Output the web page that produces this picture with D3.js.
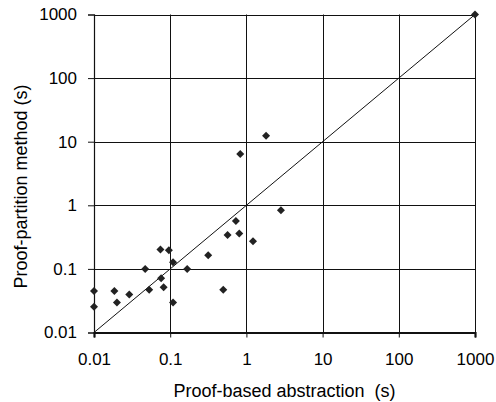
<!DOCTYPE html>
<html>
<head>
<meta charset="utf-8">
<script src="https://cdn.jsdelivr.net/npm/d3@7"></script>
<style>
  html, body { margin: 0; padding: 0; background: #fff; }
  svg { display: block; font-family: "Liberation Sans", Arial, sans-serif; }
</style>
</head>
<body>
<svg id="chart" width="496" height="402"></svg>
<script>
// Data (seconds)
const xValues = [0.01, 0.01, 0.0185, 0.02, 0.029, 0.047, 0.053, 0.0745, 0.076, 0.082, 0.096, 0.109, 0.109, 0.167, 0.315, 0.497, 0.566, 0.728, 0.806, 0.83, 1.22, 1.81, 2.84, 1000];
const yValues = [0.045, 0.0253, 0.045, 0.0296, 0.0395, 0.1, 0.0468, 0.201, 0.0713, 0.0515, 0.196, 0.127, 0.0296, 0.1, 0.164, 0.0468, 0.342, 0.567, 0.359, 6.4, 0.272, 12.4, 0.834, 1000];
const tickValues = [0.01, 0.1, 1, 10, 100, 1000];
const tickLabels = ["0.01", "0.1", "1", "10", "100", "1000"];
const xTitle = "Proof-based abstraction\u00a0\u00a0(s)";
const yTitle = "Proof-partition method (s)";

(function () {
const svg = d3.select("#chart");
const mLeft = 94, mRight = 475, mTop = 14.5, mBottom = 332.5;

const x = d3.scaleLog().domain([0.01, 1000]).range([mLeft, mRight]);
const y = d3.scaleLog().domain([0.01, 1000]).range([mBottom, mTop]);

const ink = "#111";

// gridlines
svg.append("g").selectAll("line").data(tickValues).join("line")
  .attr("x1", d => Math.round(x(d)) + 0.5).attr("x2", d => Math.round(x(d)) + 0.5)
  .attr("y1", mTop).attr("y2", mBottom)
  .attr("stroke", ink).attr("stroke-width", 1);
svg.append("g").selectAll("line").data(tickValues).join("line")
  .attr("y1", d => Math.round(y(d)) + 0.5).attr("y2", d => Math.round(y(d)) + 0.5)
  .attr("x1", mLeft).attr("x2", mRight)
  .attr("stroke", ink).attr("stroke-width", 1);

// Axes
const xAxis = d3.axisBottom(x).tickValues(tickValues).tickFormat((d, i) => tickLabels[i]).tickSize(5).tickPadding(15);
const gx = svg.append("g").attr("transform", `translate(0,${mBottom})`).call(xAxis);
gx.select(".domain").attr("stroke", ink).attr("stroke-width", 2.2);
gx.selectAll(".tick line").attr("stroke", ink);
gx.selectAll(".tick text").attr("font-size", "17px").attr("fill", "#000")
  .attr("font-family", "Liberation Sans, Arial, sans-serif");

const yAxis = d3.axisLeft(y).tickValues(tickValues).tickFormat((d, i) => tickLabels[i]).tickSize(6).tickPadding(11);
const gy = svg.append("g").attr("transform", `translate(${mLeft},0)`).call(yAxis);
gy.select(".domain").attr("stroke", ink).attr("stroke-width", 1.2);
gy.selectAll(".tick line").attr("stroke", ink);
gy.selectAll(".tick text").attr("font-size", "17px").attr("fill", "#000")
  .attr("font-family", "Liberation Sans, Arial, sans-serif");

// diagonal y = x
svg.append("line")
  .attr("x1", x(0.01)).attr("y1", y(0.01))
  .attr("x2", x(1000)).attr("y2", y(1000))
  .attr("stroke", ink).attr("stroke-width", 1);

// points (diamonds)
const pts = xValues.map((v, i) => ({ x: v, y: yValues[i] }));
const r = 4;
svg.append("g").selectAll("path").data(pts).join("path")
  .attr("d", d => {
    const cx = x(d.x), cy = y(d.y);
    return `M${cx},${cy - r}L${cx + r},${cy}L${cx},${cy + r}L${cx - r},${cy}Z`;
  })
  .attr("fill", "#222");

// titles
svg.append("text").attr("x", (mLeft + mRight) / 2).attr("y", 397)
  .attr("text-anchor", "middle").attr("font-size", "18px").attr("fill", "#000")
  .text(xTitle);
svg.append("text")
  .attr("transform", `translate(27,${(mTop + mBottom) / 2 + 13}) rotate(-90)`)
  .attr("text-anchor", "middle").attr("font-size", "18px").attr("fill", "#000")
  .text(yTitle);
})();
</script>
</body>
</html>
